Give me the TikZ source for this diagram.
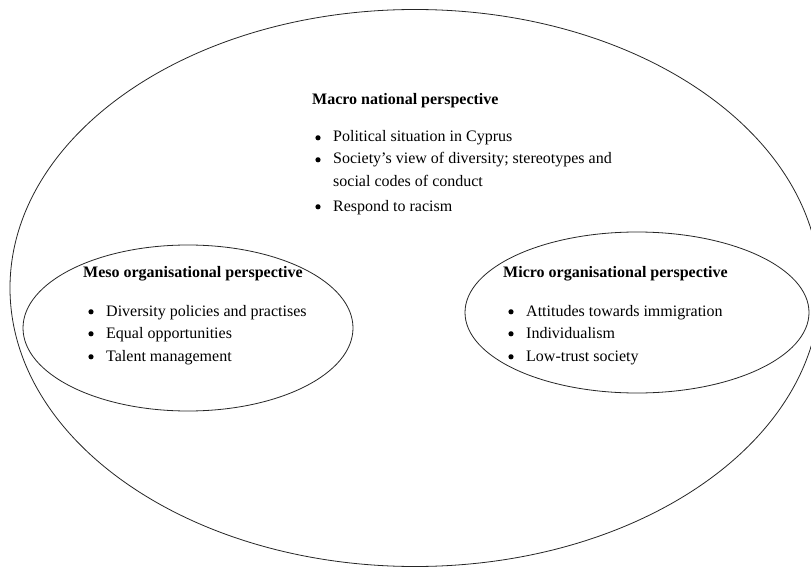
\documentclass[tikz,border=0pt]{standalone}
\usepackage{fontspec}
\setmainfont{Liberation Serif}
\usetikzlibrary{shapes.geometric}
\begin{document}
\begin{tikzpicture}[x=1pt,y=-1pt,
  ring/.style={ellipse,draw=black!85,line width=0.8pt,inner sep=0pt},
  ttl/.style={anchor=base west,inner sep=0pt,font=\fontsize{16}{20}\selectfont\bfseries},
  txt/.style={anchor=base west,inner sep=0pt,font=\fontsize{16}{20}\selectfont},
  bul/.style={circle,fill=black,inner sep=0pt,minimum size=5.2pt}]
\useasboundingbox (0,0) rectangle (811,567);
\fill[white] (0,0) rectangle (811,567);
% ellipses
\node[ring,minimum width=810pt,minimum height=557pt] (macro) at (415,288) {};
\node[ring,minimum width=330pt,minimum height=166pt] (meso) at (188,328) {};
\node[ring,minimum width=344pt,minimum height=161pt] (micro) at (637,312.5) {};
% macro text
\node[ttl] (mat) at (312,105) {Macro national perspective};
\node[bul] (mab1) at (318,137.8) {};
\node[txt] (ma1) at (333,142) {Political situation in Cyprus};
\node[bul] (mab2) at (318,159.8) {};
\node[txt] (ma2) at (333,164) {Society’s view of diversity; stereotypes and};
\node[txt] (ma2b) at (333,186) {social codes of conduct};
\node[bul] (mab3) at (318,206.8) {};
\node[txt] (ma3) at (333,211) {Respond to racism};
% meso text
\node[ttl] (met) at (83,277) {Meso organisational perspective};
\node[bul] (meb1) at (91,311.8) {};
\node[txt] (me1) at (106,316) {Diversity policies and practises};
\node[bul] (meb2) at (91,333.8) {};
\node[txt] (me2) at (106,338) {Equal opportunities};
\node[bul] (meb3) at (91,356.8) {};
\node[txt] (me3) at (106,361) {Talent management};
% micro text
\node[ttl] (mit) at (503,277) {Micro organisational perspective};
\node[bul] (mib1) at (511,311.8) {};
\node[txt] (mi1) at (526,316) {Attitudes towards immigration};
\node[bul] (mib2) at (511,333.8) {};
\node[txt] (mi2) at (526,338) {Individualism};
\node[bul] (mib3) at (511,356.8) {};
\node[txt] (mi3) at (526,361) {Low-trust society};
\end{tikzpicture}
\end{document}
